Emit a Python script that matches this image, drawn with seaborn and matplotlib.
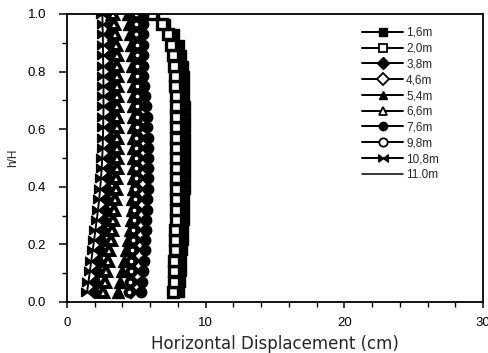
import matplotlib
matplotlib.use("Agg")
import matplotlib.pyplot as plt
import seaborn as sns
import pandas as pd
from matplotlib.ticker import MultipleLocator, FormatStrFormatter

# Normalised depth of each reading (h/H), bottom to top
h_ratio = [0.036, 0.071, 0.107, 0.143, 0.179, 0.214, 0.250, 0.286, 0.321, 0.357,
           0.393, 0.429, 0.464, 0.500, 0.536, 0.571, 0.607, 0.643, 0.679, 0.714,
           0.750, 0.786, 0.821, 0.857, 0.893, 0.929, 0.964, 1.000]

# Horizontal displacement (cm) at each reading, one list per excavation depth
disp_1_6 = [8.10, 8.15, 8.20, 8.25, 8.30, 8.34, 8.38, 8.41, 8.44, 8.46, 8.48, 8.50, 8.51, 8.52,
            8.52, 8.52, 8.51, 8.50, 8.49, 8.47, 8.44, 8.40, 8.33, 8.22, 8.05, 7.75, 7.10, 6.30]
disp_2_0 = [7.65, 7.68, 7.71, 7.74, 7.77, 7.79, 7.81, 7.83, 7.85, 7.86, 7.87, 7.88, 7.88, 7.88,
            7.88, 7.88, 7.87, 7.86, 7.85, 7.84, 7.82, 7.79, 7.74, 7.66, 7.52, 7.28, 6.85, 6.10]
disp_3_8 = [1.95, 2.05, 2.15, 2.25, 2.36, 2.47, 2.58, 2.68, 2.76, 2.84, 2.91, 2.97, 3.02, 3.06,
            3.09, 3.11, 3.13, 3.14, 3.15, 3.15, 3.15, 3.14, 3.13, 3.11, 3.09, 3.06, 3.03, 3.00]
disp_4_6 = [4.60, 4.67, 4.73, 4.79, 4.84, 4.89, 4.93, 4.97, 5.01, 5.04, 5.07, 5.09, 5.11, 5.13,
            5.15, 5.16, 5.17, 5.18, 5.19, 5.20, 5.20, 5.20, 5.19, 5.18, 5.17, 5.15, 5.13, 5.10]
disp_5_4 = [3.65, 3.80, 3.95, 4.10, 4.25, 4.40, 4.52, 4.60, 4.66, 4.70, 4.73, 4.75, 4.77, 4.78,
            4.79, 4.79, 4.79, 4.79, 4.78, 4.77, 4.76, 4.74, 4.71, 4.67, 4.62, 4.56, 4.49, 4.40]
disp_6_6 = [2.60, 2.72, 2.84, 2.95, 3.05, 3.15, 3.24, 3.32, 3.39, 3.45, 3.50, 3.54, 3.57, 3.59,
            3.61, 3.62, 3.63, 3.64, 3.64, 3.64, 3.63, 3.62, 3.60, 3.57, 3.53, 3.48, 3.42, 3.35]
disp_7_6 = [5.35, 5.42, 5.49, 5.55, 5.60, 5.64, 5.68, 5.72, 5.76, 5.79, 5.82, 5.84, 5.85, 5.85,
            5.84, 5.82, 5.80, 5.76, 5.70, 5.62, 5.52, 5.48, 5.46, 5.45, 5.45, 5.46, 5.47, 5.48]
disp_9_8 = [4.45, 4.52, 4.58, 4.64, 4.69, 4.74, 4.78, 4.82, 4.86, 4.89, 4.92, 4.94, 4.96, 4.98,
            5.00, 5.01, 5.02, 5.03, 5.04, 5.05, 5.05, 5.05, 5.04, 5.03, 5.02, 5.00, 4.98, 4.95]
disp_10_8 = [1.45, 1.55, 1.65, 1.75, 1.85, 1.95, 2.05, 2.15, 2.24, 2.32, 2.39, 2.45, 2.50, 2.54,
             2.57, 2.59, 2.61, 2.62, 2.63, 2.63, 2.63, 2.62, 2.61, 2.60, 2.59, 2.58, 2.56, 2.55]
disp_11_0 = [2.20, 2.30, 2.40, 2.50, 2.60, 2.70, 2.80, 2.89, 2.97, 3.04, 3.10, 3.15, 3.19, 3.22,
             3.24, 3.26, 3.27, 3.28, 3.28, 3.28, 3.27, 3.26, 3.24, 3.22, 3.20, 3.18, 3.15, 3.12]

stage_labels = ["1,6m", "2,0m", "3,8m", "4,6m", "5,4m", "6,6m", "7,6m", "9,8m", "10,8m", "11.0m"]
stage_values = [disp_1_6, disp_2_0, disp_3_8, disp_4_6, disp_5_4, disp_6_6,
                disp_7_6, disp_9_8, disp_10_8, disp_11_0]

# Horizontal bow-tie glyph used for the 10.8 m stage
bowtie = [(-1, -0.75), (0, 0), (1, -0.75), (1, 0.75), (0, 0), (-1, 0.75), (-1, -0.75)]

# Marker style per stage: (marker, filled?, size, edge width)
stage_markers = [("s", True, 7.0, 1.0), ("s", False, 6.5, 2.4),
                 ("D", True, 6.5, 1.0), ("D", False, 5.5, 2.8),
                 ("^", True, 8.0, 1.0), ("^", False, 6.5, 2.8),
                 ("o", True, 7.5, 1.0), ("o", False, 5.5, 2.8),
                 (bowtie, True, 8.5, 1.0), (None, True, 0, 0)]

sns.set_style("ticks")
plt.rcParams["font.family"] = ["Liberation Sans", "DejaVu Sans"]

fig = plt.figure(figsize=(4.89, 3.53), dpi=100)
ax = fig.add_axes([0.137, 0.1445, 0.851, 0.816])

for label, values, (mk, filled, size, mew) in zip(stage_labels, stage_values, stage_markers):
    df = pd.DataFrame({"disp": values, "h": h_ratio})
    kws = dict(color="black", linewidth=1.4)
    if mk is not None:
        kws.update(marker=mk, markersize=size,
                   markerfacecolor="black" if filled else "white",
                   markeredgecolor="black", markeredgewidth=mew)
    else:
        kws.update(linewidth=1.1)
    sns.lineplot(data=df, x="disp", y="h", sort=False, estimator=None,
                 label=label, ax=ax, **kws)

ax.set_xlim(0, 30)
ax.set_ylim(0, 1.0)
ax.xaxis.set_major_locator(MultipleLocator(10))
ax.xaxis.set_minor_locator(MultipleLocator(2))
ax.yaxis.set_major_locator(MultipleLocator(0.2))
ax.yaxis.set_minor_locator(MultipleLocator(0.1))
ax.yaxis.set_major_formatter(FormatStrFormatter("%.1f"))

for side in ["top", "right", "bottom", "left"]:
    ax.spines[side].set_visible(True)
    ax.spines[side].set_linewidth(1.3)
    ax.spines[side].set_color("black")

ax.tick_params(axis="x", which="major", direction="out", length=4, width=1.1,
               labelsize=9.5, colors="black", pad=7)
ax.tick_params(axis="x", which="minor", direction="out", length=3.5, width=1.0, colors="black")
ax.tick_params(axis="y", which="major", direction="out", length=6, width=1.1,
               labelsize=9.5, colors="black", pad=9)
ax.tick_params(axis="y", which="minor", direction="out", length=3.5, width=1.0, colors="black")

ax.set_xlabel("Horizontal Displacement (cm)", fontsize=12, family="DejaVu Sans", labelpad=4)
ax.set_ylabel("h/H", fontsize=8.5, labelpad=6)

leg = ax.legend(loc="upper left", bbox_to_anchor=(0.71, 0.955), frameon=False, fontsize=8.5,
                handlelength=3.4, handletextpad=0.3, labelspacing=0.32, borderpad=0,
                borderaxespad=0)

# Legend keys: uniform small markers, hollow ones with a thin outline
for handle, (mk, filled, size, mew) in zip(leg.get_lines(), stage_markers):
    if mk is None:
        continue
    handle.set_markersize(6.0 if mk != bowtie else 7.0)
    handle.set_markeredgewidth(1.0 if filled else 1.3)

fig.savefig("out.png", dpi=100)
